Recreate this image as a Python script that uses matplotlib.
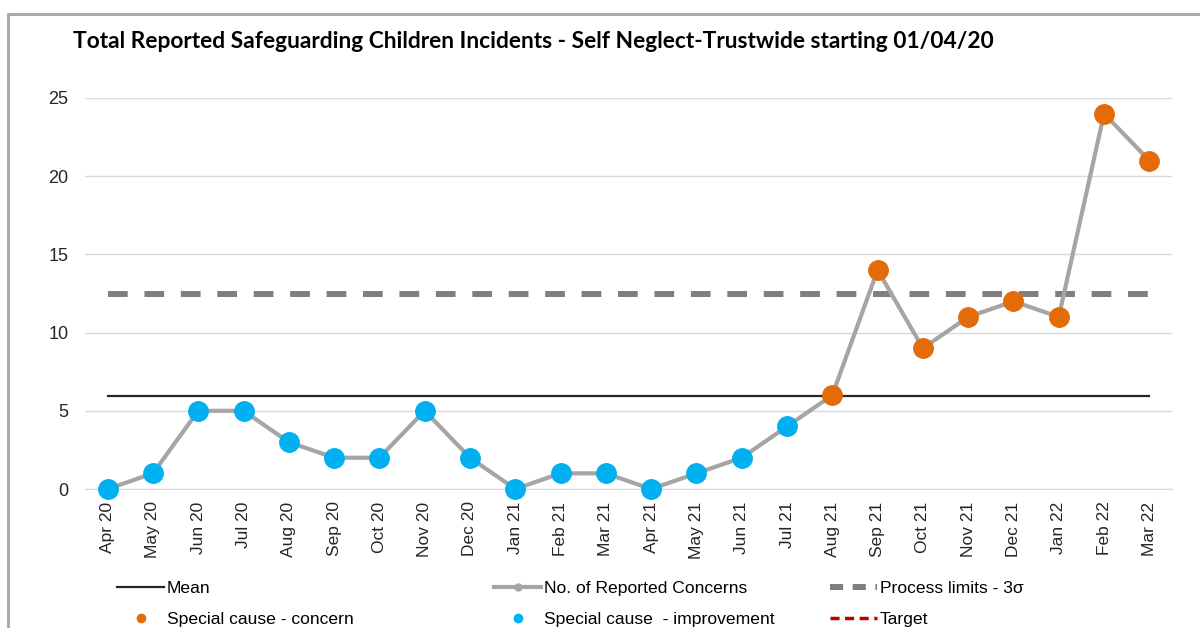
import matplotlib
matplotlib.use("Agg")
import matplotlib.pyplot as plt
from matplotlib.lines import Line2D
from matplotlib.patches import Rectangle
import numpy as np

# data
months = ['Apr 20', 'May 20', 'Jun 20', 'Jul 20', 'Aug 20', 'Sep 20', 'Oct 20', 'Nov 20',
          'Dec 20', 'Jan 21', 'Feb 21', 'Mar 21', 'Apr 21', 'May 21', 'Jun 21', 'Jul 21',
          'Aug 21', 'Sep 21', 'Oct 21', 'Nov 21', 'Dec 21', 'Jan 22', 'Feb 22', 'Mar 22']
concerns = [0, 1, 5, 5, 3, 2, 2, 5, 2, 0, 1, 1, 0, 1, 2, 4, 6, 14, 9, 11, 12, 11, 24, 21]
# special cause flags: 'imp' = improvement (blue), 'con' = concern (orange)
special = ['imp'] * 16 + ['con'] * 8
process_limit = 12.5
yticks = [0, 5, 10, 15, 20, 25]

title = 'Total Reported Safeguarding Children Incidents - Self Neglect-Trustwide starting 01/04/20'

GRAY = '#a5a5a5'
ORANGE = '#e36c09'
BLUE = '#00b0f0'
LIMIT = '#7f7f7f'
MEAN = '#262626'

plt.rcParams['font.family'] = ['Liberation Sans', 'DejaVu Sans']

fig = plt.figure(figsize=(12, 6.28), dpi=100)
W, H = 1200, 628
ax = fig.add_axes([85 / W, 1 - 489 / H, (1172 - 85) / W, (489 - 98) / H])

x = np.arange(len(months))
mean_val = np.mean(concerns)

ax.plot(x, [mean_val] * len(x), color=MEAN, lw=1.6, zorder=2)
ax.plot(x, [process_limit] * len(x), color=LIMIT, lw=4.3,
        linestyle=(0, (3.3, 2.8)), zorder=2)
ax.plot(x, concerns, color=GRAY, lw=3, zorder=3)

for xi, yi, s in zip(x, concerns, special):
    c = ORANGE if s == 'con' else BLUE
    ax.plot(xi, yi, 'o', ms=14, color=c, markeredgecolor=c, zorder=4, clip_on=False)

ax.set_xlim(-0.5, len(months) - 0.5)
ax.set_ylim(0, 25)
ax.set_yticks(yticks)
ax.set_xticks(x)
ax.set_xticklabels(months, rotation=90, fontsize=12.5, color='#262626')
ax.tick_params(axis='y', labelsize=13, labelcolor='#262626', length=0, pad=12)
ax.tick_params(axis='x', length=0, pad=9)
ax.grid(axis='y', color='#d9d9d9', lw=1)
ax.set_axisbelow(True)
for sp in ['top', 'right', 'left']:
    ax.spines[sp].set_visible(False)
ax.spines['bottom'].set_color('#d9d9d9')

fig.text(73 / W, 1 - 42 / H, title, fontsize=16.4, fontweight='bold',
         family=['Lato', 'DejaVu Sans'], va='center', ha='left', color='black')

# legend, three columns placed by hand
leg_font = {'family': ['Liberation Sans', 'DejaVu Sans'], 'size': 12.6}
cols = [
    ([Line2D([], [], color=MEAN, lw=1.6),
      Line2D([], [], ls='none', marker='o', ms=6, color=ORANGE)],
     ['Mean', 'Special cause - concern'], 117),
    ([Line2D([], [], color=GRAY, lw=3, marker='o', ms=5),
      Line2D([], [], ls='none', marker='o', ms=6, color=BLUE)],
     ['No. of Reported Concerns', 'Special cause  - improvement'], 494),
    ([Line2D([], [], color=LIMIT, lw=4.3, linestyle=(0, (2.2, 1.6))),
      Line2D([], [], color='#c00000', lw=2.5, linestyle=(0, (2.6, 1.6)))],
     ['Process limits - 3σ', 'Target'], 830),
]
for handles, labels, xpx in cols:
    leg = fig.legend(handles, labels, loc='upper left',
                     bbox_to_anchor=(xpx / W, 1 - 581 / H), frameon=False,
                     prop=leg_font, handlelength=2.7, handletextpad=0.15,
                     labelspacing=0.9, borderpad=0, borderaxespad=0)

fig.patches.append(Rectangle((8 / W, -0.1), 1.2, 1 - 14 / H + 0.1,
                             transform=fig.transFigure, fill=False,
                             edgecolor='#a6a6a6', lw=2))

fig.savefig('out.png', dpi=100)
